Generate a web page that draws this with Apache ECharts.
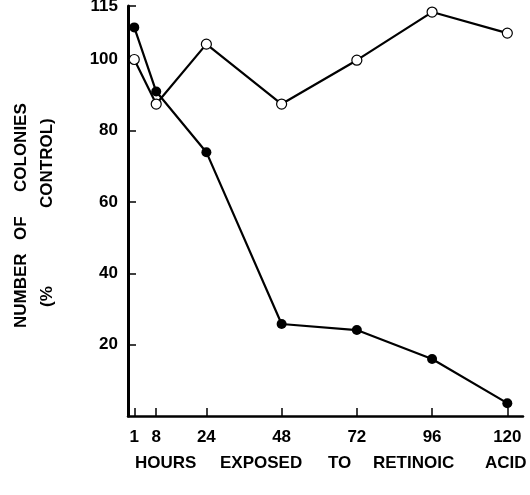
<!DOCTYPE html>
<html>
<head>
<meta charset="utf-8">
<script src="https://cdn.jsdelivr.net/npm/echarts@6/dist/echarts.min.js"></script>
<style>
  html, body { margin: 0; padding: 0; background: #fff; }
  #chart { width: 530px; height: 495px; }
</style>
</head>
<body>
<div id="chart"></div>
<script>
// Hours of exposure to retinoic acid
const hours = [1, 8, 24, 48, 72, 96, 120];
// Colony counts as % of control
const treatedPct = [109, 91, 74, 25.8, 24.1, 16, 3.6];      // filled circles
const controlPct = [100, 87.5, 104.3, 87.5, 99.8, 113.3, 107.4]; // open circles
// Tick positions and labels
const xTicks = [1, 8, 24, 48, 72, 96, 120];
const yTicks = [20, 40, 60, 80, 100, 115];

// Axis title words, laid out one by one for the wide word spacing
const xTitleWords = ['HOURS', 'EXPOSED', 'TO', 'RETINOIC', 'ACID'];
const yTitleLine1 = ['NUMBER', 'OF', 'COLONIES'];
const yTitleLine2 = ['(%', 'CONTROL)'];

const tickFont = '"Liberation Sans", Arial, Helvetica, sans-serif';
const titleFont = '"Liberation Sans", Arial, Helvetica, sans-serif';

function toPairs(xs, ys) { return xs.map((x, i) => [x, ys[i]]); }

const chart = echarts.init(document.getElementById('chart'), null, { renderer: 'canvas' });

const titleStyle = { fontFamily: titleFont, fontWeight: 'bold', fontSize: 17, fill: '#000' };

const xWordLeft = [135, 220, 328, 373, 485];
const xTitleGraphics = xTitleWords.map((w, i) => ({
  type: 'text', left: xWordLeft[i], top: 455,
  style: Object.assign({ text: w }, titleStyle)
}));

const y1Bottom = [328, 240, 192];
const y2Bottom = [307, 208];
function rotatedWord(w, x, yBottom) {
  return {
    type: 'text', x: x, y: yBottom, rotation: Math.PI / 2,
    style: Object.assign({ text: w, align: 'left', verticalAlign: 'middle' }, titleStyle)
  };
}
const yTitleGraphics = yTitleLine1.map((w, i) => rotatedWord(w, 21, y1Bottom[i]))
  .concat(yTitleLine2.map((w, i) => rotatedWord(w, 47, y2Bottom[i])));

chart.setOption({
  animation: false,
  backgroundColor: '#fff',
  grid: { left: 128, right: 7, top: 6, bottom: 79, containLabel: false, outerBoundsMode: 'none' },
  xAxis: {
    type: 'value', min: -1, max: 125,
    axisLine: { show: true, onZero: false, lineStyle: { color: '#000', width: 2.5 } },
    axisTick: { show: true, inside: true, length: 8, customValues: xTicks, lineStyle: { color: '#000', width: 1.5 } },
    axisLabel: {
      customValues: xTicks, margin: 13, color: '#000',
      fontFamily: tickFont, fontWeight: 'bold', fontSize: 17
    },
    splitLine: { show: false }
  },
  yAxis: {
    type: 'value', min: 0, max: 115,
    axisLine: { show: true, onZero: false, lineStyle: { color: '#000', width: 3 } },
    axisTick: { show: true, inside: true, length: 8, customValues: yTicks, lineStyle: { color: '#000', width: 1.5 } },
    axisLabel: {
      customValues: yTicks, margin: 10, color: '#000',
      fontFamily: tickFont, fontWeight: 'bold', fontSize: 17
    },
    splitLine: { show: false }
  },
  series: [
    {
      name: 'Retinoic acid', type: 'line', data: toPairs(hours, treatedPct),
      symbol: 'circle', symbolSize: 10, z: 3,
      lineStyle: { color: '#000', width: 2.2 },
      itemStyle: { color: '#000', borderColor: '#000', borderWidth: 0 }
    },
    {
      name: 'Control', type: 'line', data: toPairs(hours, controlPct),
      symbol: 'circle', symbolSize: 10, z: 4,
      lineStyle: { color: '#000', width: 2.2 },
      itemStyle: { color: '#fff', borderColor: '#000', borderWidth: 1.2 }
    }
  ],
  graphic: xTitleGraphics.concat(yTitleGraphics)
});
</script>
</body>
</html>
